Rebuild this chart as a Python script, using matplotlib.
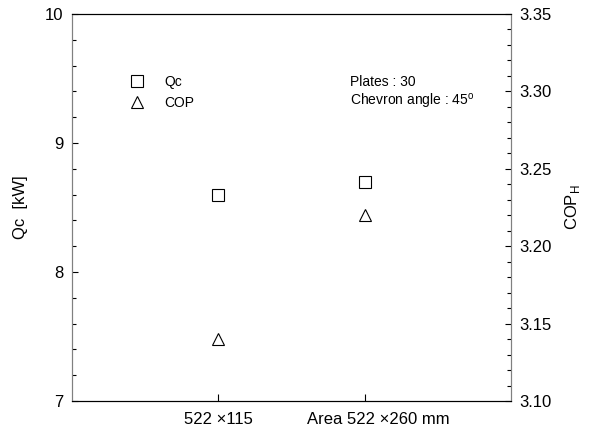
import matplotlib
matplotlib.use("Agg")
import matplotlib.pyplot as plt
import matplotlib.transforms as mtransforms
from matplotlib.ticker import MultipleLocator

plt.rcParams['font.family'] = ['Liberation Sans Narrow', 'Liberation Sans', 'DejaVu Sans']
plt.rcParams['mathtext.fontset'] = 'custom'
plt.rcParams['mathtext.rm'] = 'Liberation Sans'

# plate sizes and measured values
sizes = ["522 \u00d7115", "Area 522 \u00d7260 mm"]
positions = [1, 2]
qc_kw = [8.6, 8.7]
cop_h = [3.14, 3.22]

SPINE = "#808080"


def main():
    fig = plt.figure(figsize=(5.97, 4.37), dpi=100)
    ax = fig.add_axes([0.1206, 0.0824, 0.7353, 0.8856])
    ax2 = ax.twinx()

    h1, = ax.plot(positions, qc_kw, ls="none", marker="s", ms=8, mfc="white",
                  mec="black", mew=0.8, label="Qc")
    h2, = ax2.plot(positions, cop_h, ls="none", marker="^", ms=9, mfc="white",
                   mec="black", mew=0.8, label="COP")

    ax.set_xlim(0, 3)
    ax.set_xticks(positions)
    ax.set_xticklabels(sizes, fontsize=12)

    ax.set_ylim(7, 10)
    ax.yaxis.set_major_locator(MultipleLocator(1))
    ax.yaxis.set_minor_locator(MultipleLocator(0.2))
    ax.set_ylabel("Qc  [kW]", fontsize=12, labelpad=12)

    ax2.set_ylim(3.10, 3.35)
    ax2.yaxis.set_major_locator(MultipleLocator(0.05))
    ax2.yaxis.set_minor_locator(MultipleLocator(0.01))
    ax2.set_yticklabels([f"{v:.2f}" for v in ax2.get_yticks()])
    ax2.set_ylabel("COP$_\\mathrm{H}$", fontsize=12, labelpad=8)

    for a in (ax, ax2):
        a.tick_params(which="both", direction="in", labelsize=12, width=0.8, pad=6)
        a.tick_params(which="major", length=4)
        a.tick_params(which="minor", length=3)
        a.spines["left"].set_color(SPINE)
        a.spines["right"].set_color(SPINE)
        a.spines["top"].set_color("black")
        a.spines["bottom"].set_color("black")
    ax.tick_params(axis="x", which="major", length=5, pad=8)

    # the long label sits a little right of its tick
    shift = mtransforms.ScaledTranslation(14 / 100, 0, fig.dpi_scale_trans)
    lbl = ax.get_xticklabels()[1]
    lbl.set_transform(lbl.get_transform() + shift)

    ax.legend(handles=[h1, h2], loc="upper left", bbox_to_anchor=(0.1, 0.875),
              frameon=False, fontsize=10, handletextpad=1.4, labelspacing=0.5,
              handlelength=1.2)

    ax.text(0.633, 0.824, "Plates : 30", transform=ax.transAxes, fontsize=10,
            va="center")
    ax.text(0.633, 0.775, "Chevron angle : 45$^\\mathrm{o}$",
            transform=ax.transAxes, fontsize=10, va="center")

    fig.savefig("out.png", dpi=100)


if __name__ == "__main__":
    main()
